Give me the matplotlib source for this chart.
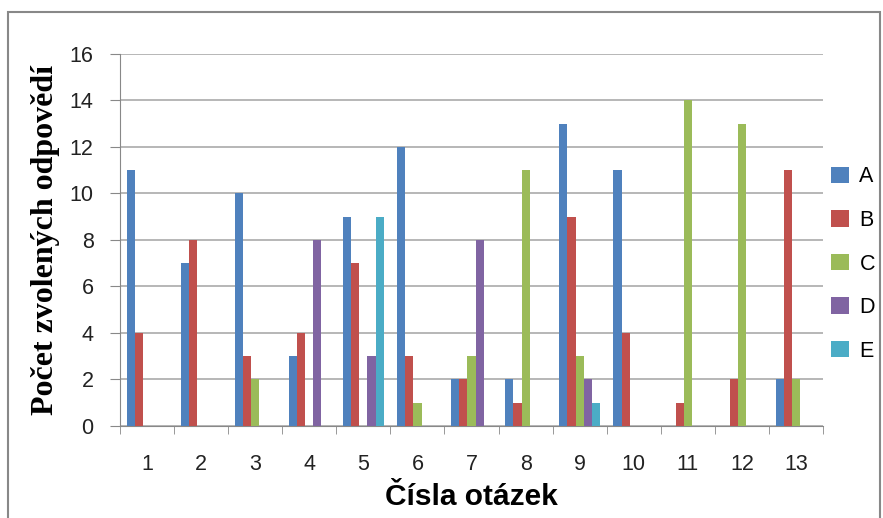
import matplotlib.pyplot as plt
import numpy as np
from matplotlib.patches import Rectangle

# Data
otazky = [str(i) for i in range(1, 14)]
odpovedi = ['A', 'B', 'C', 'D', 'E']
A = [11, 7, 10, 3, 9, 12, 2, 2, 13, 11, 0, 0, 2]
B = [4, 8, 3, 4, 7, 3, 2, 1, 9, 4, 1, 2, 11]
C = [0, 0, 2, 0, 0, 1, 3, 11, 3, 0, 14, 13, 2]
D = [0, 0, 0, 8, 3, 0, 8, 0, 2, 0, 0, 0, 0]
E = [0, 0, 0, 0, 9, 0, 0, 0, 1, 0, 0, 0, 0]
barvy = ['#4F81BD', '#C0504D', '#9BBB59', '#8064A2', '#4BACC6']

fig = plt.figure(figsize=(8.83, 5.18), dpi=100)
ax = fig.add_axes([0.136, 0.178, 0.796, 0.718])

# ramecek kolem grafu
fig.patches.append(Rectangle((0.009, -0.01), 0.988, 0.987, transform=fig.transFigure,
                             fill=False, edgecolor='#888888', linewidth=1.5))

x = np.arange(len(otazky))
sirka = 0.15
for i, (nazev, hodnoty) in enumerate(zip(odpovedi, [A, B, C, D, E])):
    pos = x - 2 * sirka + i * sirka
    ax.bar(pos, hodnoty, width=sirka, color=barvy[i], label=nazev, zorder=3)

ax.set_xlim(-0.5, len(otazky) - 0.5)
ax.set_ylim(0, 16)
ax.set_yticks(range(0, 17, 2))
ax.set_xticks(x)
ax.set_xticklabels(otazky)
ax.set_xticks(np.arange(-0.5, len(otazky)), minor=True)
ax.tick_params(axis='x', which='major', length=0, pad=20)
ax.tick_params(axis='x', which='minor', length=6, color='#888888')
ax.tick_params(axis='y', length=7, color='#888888', pad=12)
ax.tick_params(labelsize=15.5)
for lab in ax.get_xticklabels() + ax.get_yticklabels():
    lab.set_family('Liberation Sans')
    lab.set_color('#222222')

ax.grid(axis='y', color='#AAAAAA', linewidth=1.2, zorder=0)
for s in ['top', 'right']:
    ax.spines[s].set_visible(False)
ax.spines['left'].set_color('#888888')
ax.spines['bottom'].set_color('#888888')

ax.set_ylabel('Počet zvolených odpovědí', fontsize=23, fontweight='bold',
              family='Liberation Serif', labelpad=7)
ax.set_xlabel('Čísla otázek', fontsize=21.5, fontweight='bold',
              family='Liberation Sans', labelpad=6)

leg = ax.legend(loc='center left', bbox_to_anchor=(1.012, 0.435), frameon=False,
                prop={'family': 'Liberation Sans', 'size': 15.5},
                handlelength=0.8, handleheight=0.8, labelspacing=1.05,
                handletextpad=0.5, borderaxespad=0, borderpad=0)

fig.savefig('out.png', dpi=100)
